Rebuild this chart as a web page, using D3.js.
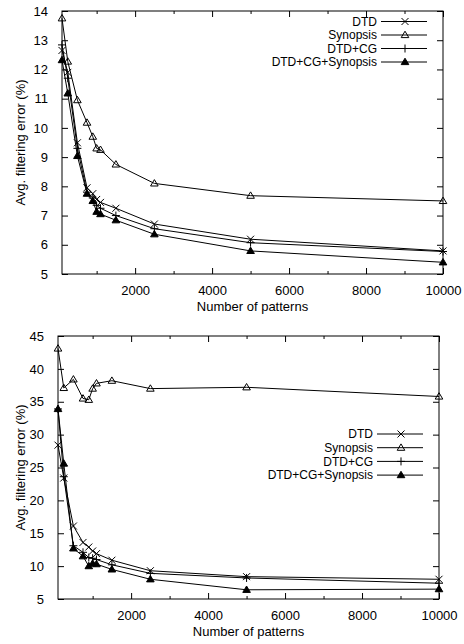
<!DOCTYPE html>
<html>
<head>
<meta charset="utf-8">
<script src="https://cdn.jsdelivr.net/npm/d3@7"></script>
<style>
  body { margin: 0; background: #fff; }
  text { font-family: "Liberation Sans", Arial, sans-serif; font-size: 13px; fill: #000; }
</style>
</head>
<body>
<div class="chart"></div>
<script>
// x values (number of patterns), shared by both panels
var patterns = [100, 250, 500, 750, 900, 1000, 1100, 1500, 2500, 5000, 10000];
var seriesNames = ["DTD", "Synopsis", "DTD+CG", "DTD+CG+Synopsis"];

// top panel
var topDTD      = [12.65, 11.9, 9.49, 7.95, 7.75, 7.55, 7.45, 7.25, 6.71, 6.19, 5.79];
var topSynopsis = [13.75, 12.27, 10.95, 10.18, 9.7, 9.3, 9.25, 8.75, 8.1, 7.68, 7.5];
var topDTDCG    = [12.84, 11.7, 9.3, 7.8, 7.6, 7.35, 7.25, 7.0, 6.55, 6.07, 5.77];
var topAll      = [12.32, 11.18, 9.04, 7.75, 7.5, 7.13, 7.05, 6.84, 6.36, 5.79, 5.4];
var topYTicks   = [5, 6, 7, 8, 9, 10, 11, 12, 13, 14];

// bottom panel
var botDTD      = [28.4, 23.4, 16.1, 13.6, 12.9, 12.3, 11.9, 10.9, 9.3, 8.4, 8.0];
var botSynopsis = [43.1, 37.1, 38.4, 35.5, 35.3, 37.0, 37.8, 38.2, 37.0, 37.2, 35.8];
var botDTDCG    = [33.9, 23.6, 13.1, 12.1, 11.3, 11.2, 11.0, 10.2, 8.9, 8.2, 7.4];
var botAll      = [33.9, 25.6, 12.7, 11.5, 10.0, 10.4, 10.3, 9.5, 8.0, 6.4, 6.5];
var botYTicks   = [5, 10, 15, 20, 25, 30, 35, 40, 45];

var xTicks = [2000, 4000, 6000, 8000, 10000];
var xMinor = [1000, 3000, 5000, 7000, 9000];

var svg = d3.select(".chart").append("svg")
  .attr("width", 464)
  .attr("height", 644);

function marker(g, type, x, y) {
  if (type === "DTD") {
    g.append("path")
      .attr("d", `M${x-3.5},${y-3.5}L${x+3.5},${y+3.5}M${x-3.5},${y+3.5}L${x+3.5},${y-3.5}`)
      .attr("stroke", "#000").attr("fill", "none");
  } else if (type === "DTD+CG") {
    g.append("path")
      .attr("d", `M${x-4},${y}L${x+4},${y}M${x},${y-4}L${x},${y+4}`)
      .attr("stroke", "#000").attr("fill", "none");
  } else {
    g.append("path")
      .attr("d", `M${x},${y-3.8}L${x+3.8},${y+2.6}L${x-3.8},${y+2.6}Z`)
      .attr("stroke", "#000")
      .attr("fill", type === "Synopsis" ? "none" : "#000");
  }
}

function panel(box, yDomain, yTicks, data, legend) {
  var g = svg.append("g");

  var x = d3.scaleLinear().domain([100, 10000]).range([box.left, box.right]);
  var y = d3.scaleLinear().domain(yDomain).range([box.bottom, box.top]);

  // frame
  g.append("rect")
    .attr("x", box.left).attr("y", box.top)
    .attr("width", box.right - box.left).attr("height", box.bottom - box.top)
    .attr("fill", "none").attr("stroke", "#000");

  // axes: ticks inward, mirrored on the opposite side
  var bottomAxis = d3.axisBottom(x).tickValues(xTicks).tickSize(-6).tickPadding(12).tickFormat(d3.format("d"));
  var topAxis = d3.axisTop(x).tickValues(xTicks).tickSize(-6).tickFormat("");
  var leftAxis = d3.axisLeft(y).tickValues(yTicks).tickSize(-6).tickPadding(14).tickFormat(d3.format("d"));
  var rightAxis = d3.axisRight(y).tickValues(yTicks).tickSize(-6).tickFormat("");

  g.append("g").attr("transform", `translate(0,${box.bottom})`).call(bottomAxis);
  g.append("g").attr("transform", `translate(0,${box.top})`).call(topAxis);
  g.append("g").attr("transform", `translate(${box.left},0)`).call(leftAxis);
  g.append("g").attr("transform", `translate(${box.right},0)`).call(rightAxis);

  g.append("g").attr("transform", `translate(0,${box.bottom})`)
    .call(d3.axisBottom(x).tickValues(xMinor).tickSize(-3).tickFormat(""));
  g.append("g").attr("transform", `translate(0,${box.top})`)
    .call(d3.axisTop(x).tickValues(xMinor).tickSize(-3).tickFormat(""));

  g.selectAll(".domain").remove();
  g.selectAll(".tick line").attr("stroke", "#000");
  g.selectAll(".tick text").attr("fill", "#000").style("font-size", "13px")
    .style("font-family", '"Liberation Sans", Arial, sans-serif');

  // axis titles
  g.append("text")
    .attr("transform", `translate(25,${(box.top + box.bottom) / 2}) rotate(-90)`)
    .attr("text-anchor", "middle")
    .text("Avg. filtering error (%)");
  g.append("text")
    .attr("x", (box.left + box.right) / 2)
    .attr("y", box.bottom + 37)
    .attr("text-anchor", "middle")
    .text("Number of patterns");

  var line = d3.line()
    .x((d, i) => x(patterns[i]))
    .y(d => y(d));

  data.forEach(function(s, k) {
    g.append("path")
      .attr("d", line(s))
      .attr("fill", "none")
      .attr("stroke", "#000")
      .attr("stroke-width", 1);
    s.forEach(function(v, i) {
      marker(g, seriesNames[k], x(patterns[i]), y(v));
    });
  });

  // legend
  seriesNames.forEach(function(name, k) {
    var ly = legend.top + k * legend.step;
    g.append("text")
      .attr("x", box.right - 66)
      .attr("y", ly)
      .attr("dy", "0.35em")
      .attr("text-anchor", "end")
      .style("font-size", "12px")
      .text(name);
    g.append("line")
      .attr("x1", box.right - 62).attr("x2", box.right - 16)
      .attr("y1", ly).attr("y2", ly)
      .attr("stroke", "#000");
    marker(g, name, box.right - 38, ly);
  });
}

panel({ left: 62, right: 443, top: 11, bottom: 274 }, [5, 14], topYTicks,
  [topDTD, topSynopsis, topDTDCG, topAll], { top: 21.5, step: 13.5 });

panel({ left: 58, right: 439, top: 336, bottom: 599 }, [5, 45], botYTicks,
  [botDTD, botSynopsis, botDTDCG, botAll], { top: 434, step: 13.7 });
</script>
</body>
</html>
